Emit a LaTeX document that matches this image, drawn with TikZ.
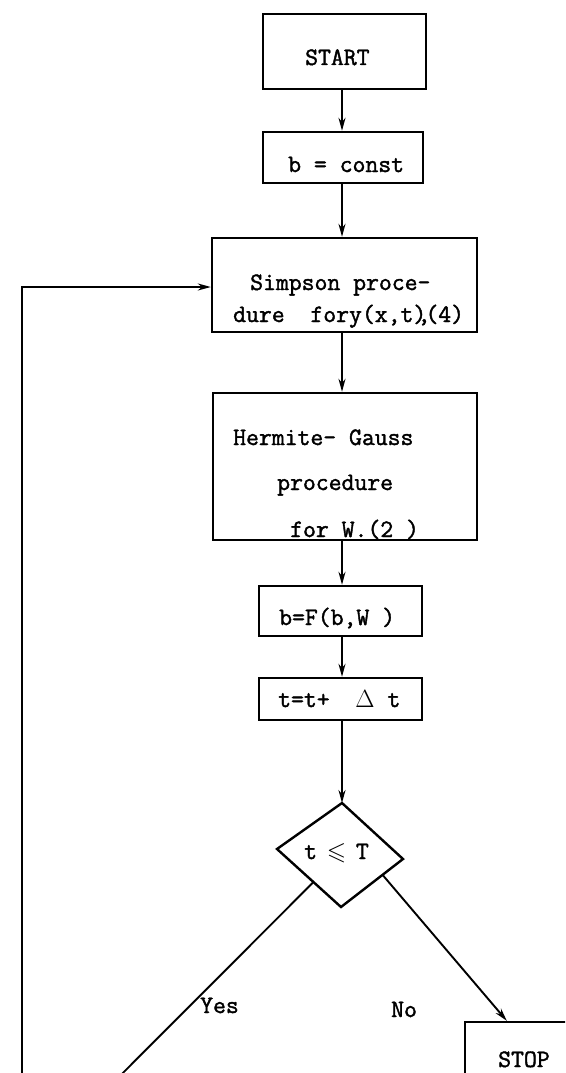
\documentclass[tikz,border=0pt]{standalone}
\usepackage{amssymb}
\usepackage{fontspec}
\setmonofont{Latin Modern Mono}[FakeBold=1.6]
\usetikzlibrary{arrows.meta,calc}
\begin{document}
\begin{tikzpicture}[x=1pt,y=-1pt,
  box/.style={draw,line width=2.4pt,inner sep=0pt},
  txt/.style={font=\ttfamily\fontsize{25}{29}\selectfont,inner sep=0pt,anchor=base west},
  arr/.style={-{Stealth[length=13pt,width=7pt]},line width=1.9pt}]
\useasboundingbox (0,0) rectangle (565,1073);
\clip (0,0) rectangle (565,1073);
\coordinate (ax) at (342,0);
% boxes
\node[box,minimum width=163pt,minimum height=75pt] (start) at (344.5,51.5) {};
\node[box,minimum width=160pt,minimum height=51pt] (bconst) at (343,157.5) {};
\node[box,minimum width=265pt,minimum height=94pt] (simp) at (344.5,285) {};
\node[box,minimum width=264pt,minimum height=147pt] (herm) at (345,466.5) {};
\node[box,minimum width=163pt,minimum height=50pt] (bf) at (340.5,611) {};
\node[box,minimum width=163pt,minimum height=42pt] (tt) at (340.5,699) {};
\node[box,minimum width=135pt,minimum height=88pt] (stop) at (532.5,1066) {};
% diamond
\coordinate (dt) at (342,803);
\coordinate (dr) at (403,859);
\coordinate (db) at (341,907);
\coordinate (dl) at (277,849);
\draw[box,line join=miter] (dt) -- (dr) -- (db) -- (dl) -- cycle;
% texts
\node[txt] (tstart) at (305,65) {START};
\node[txt] (tbconst) at (288,172) {b = const};
\node[txt] (tsimp1) at (250,290) {Simpson proce-};
\node[txt] (tsimp2) at (233,322) {dure\ \ fory(x,t)\kern-0.35em,\kern-0.2em(4)};
\node[txt] (therm1) at (233,445) {Hermite- Gauss};
\node[txt] (therm2) at (277,490) {procedure};
\node[txt] (therm3) at (290,537) {for W.(2 )};
\node[txt] (tbf) at (279,625) {b=F(b,W )};
\node[txt] (ttt) at (278,707) {t=t+\ \ $\Delta$ t};
\node[txt] (tdia) at (304,859) {t \makebox[0.525em]{$\leqslant$} T};
\node[txt] (tyes) at (200,1013) {Yes};
\node[txt] (tno) at (391,1017) {No};
\node[txt] (tstop) at (498,1067) {STOP};
% connectors
\draw[arr] (start.south -| ax) -- (bconst.north -| ax);
\draw[arr] (bconst.south -| ax) -- (simp.north -| ax);
\draw[arr] (simp.south -| ax) -- (herm.north -| ax);
\draw[arr] (herm.south -| ax) -- (bf.north -| ax);
\draw[arr] (bf.south -| ax) -- (tt.north -| ax);
\draw[arr] (tt.south -| ax) -- (dt);
\coordinate (yesstart) at ($(dl)!0.57!(db)$);
\coordinate (nostart) at ($(dr)!0.33!(db)$);
\coordinate (loopc) at (22,1174);
\draw[arr] (yesstart) -- (loopc) |- ([yshift=-2pt]simp.west);
\draw[arr] (nostart) -- ($(stop.north west)+(43,0)$);
\end{tikzpicture}
\end{document}
